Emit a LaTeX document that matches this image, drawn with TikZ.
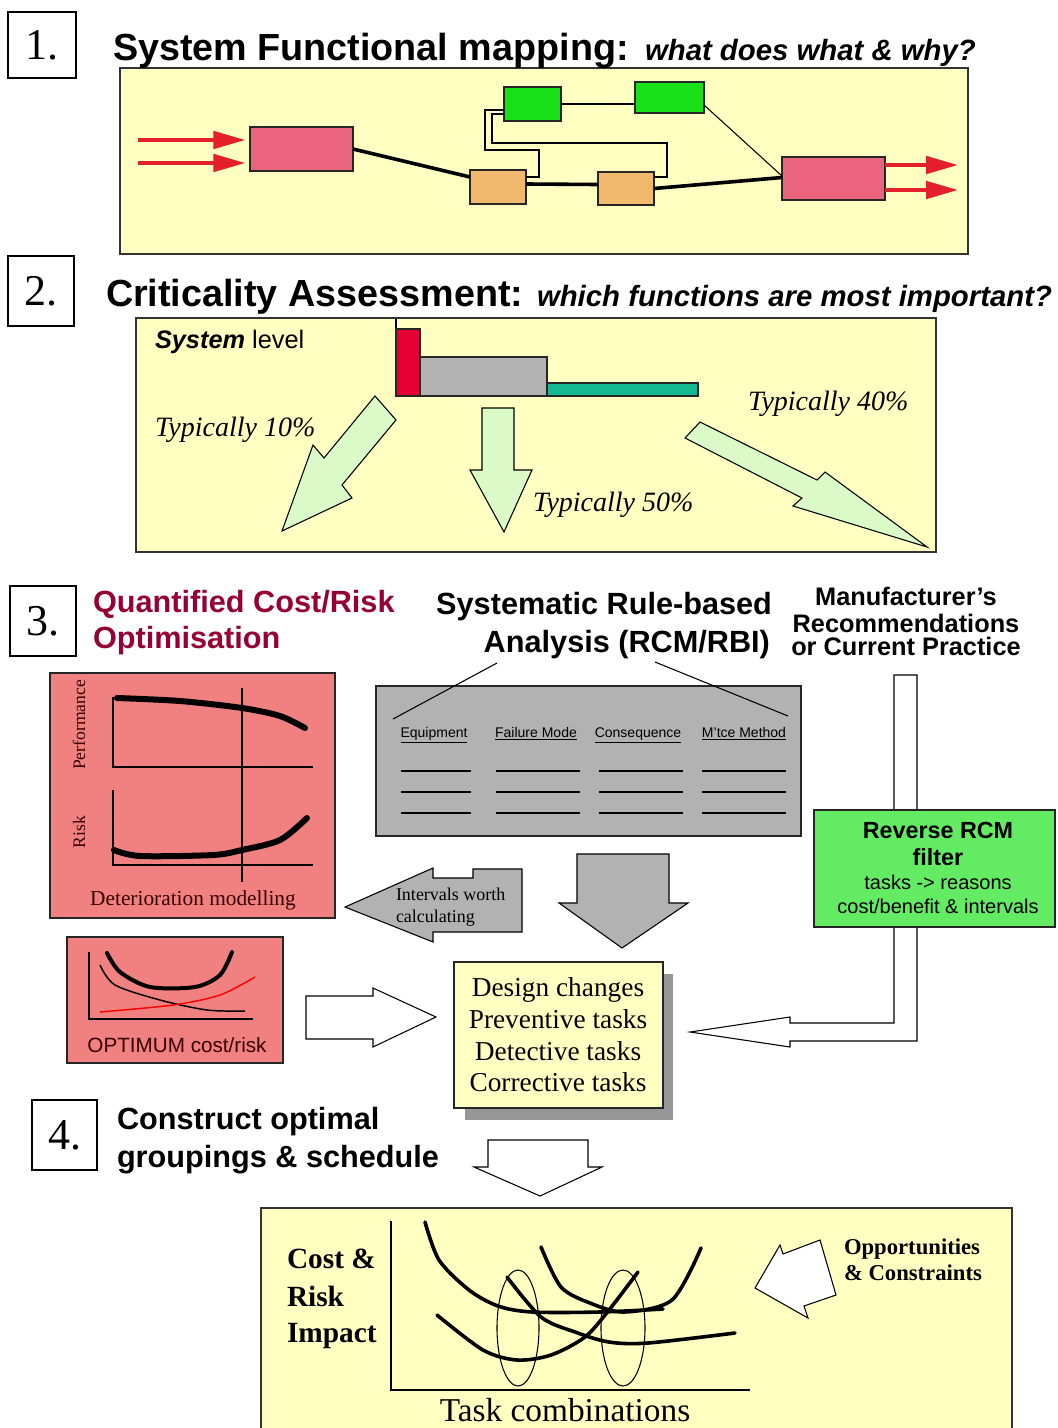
\documentclass[tikz,border=0pt]{standalone}
\usepackage{fontspec}
\setmainfont{Liberation Serif}
\setsansfont{Liberation Sans}
\usetikzlibrary{fit,calc,arrows.meta}
\newcommand\fz[2]{\fontsize{#1}{#2}\selectfont}
\definecolor{ylw}{RGB}{255,255,194}
\definecolor{pinkA}{RGB}{234,100,125}
\definecolor{orng}{RGB}{240,185,110}
\definecolor{grn}{RGB}{25,225,25}
\definecolor{redA}{RGB}{228,32,45}
\definecolor{barred}{RGB}{228,0,50}
\definecolor{bargrey}{RGB}{178,178,178}
\definecolor{barteal}{RGB}{20,185,145}
\definecolor{lgreen}{RGB}{218,250,200}
\definecolor{coral}{RGB}{241,128,128}
\definecolor{rcmgreen}{RGB}{100,235,100}
\definecolor{tgrey}{RGB}{178,178,178}
\definecolor{maroonA}{RGB}{150,0,50}
\definecolor{shadowc}{RGB}{150,150,150}
\definecolor{dkred}{RGB}{55,0,0}
\begin{document}
\begin{tikzpicture}[x=0.75pt,y=-0.75pt,
 every node/.style={inner sep=0pt,outer sep=0pt},
 numbox/.style={draw,line width=0.9pt,fill=white},
 numtxt/.style={font=\fz{33}{38}},
 ybox/.style={draw=black!80,line width=1.4pt,fill=ylw},
 filledbox/.style={draw=black!85,line width=1.2pt,fill=#1},
 thickconn/.style={line width=2.7pt},
 thinconn/.style={line width=0.8pt},
 redarr/.style={draw=redA,line width=3pt,-{Triangle[length=24pt,width=13pt]}},
 blockarr/.style={draw,line width=0.8pt,fill=#1,line join=miter},
 ttl/.style={font=\sffamily\bfseries\fz{28.3}{34},anchor=base west},
 ttli/.style={font=\sffamily\bfseries\itshape\fz{22}{26},anchor=base west},
 typ/.style={font=\itshape\fz{21}{25},anchor=base west},
 axln/.style={line width=1.1pt},
 curveT/.style={line width=4.5pt,line cap=round,line join=round},
 hdr/.style={font=\sffamily\bfseries\fz{23}{27}},
 mfr/.style={font=\sffamily\bfseries\fz{19}{22},anchor=base},
 colhdr/.style={font=\sffamily\fz{10.5}{12},anchor=base},
 rowln/.style={line width=1.1pt},
 chartc/.style={line width=2.7pt,line cap=round,line join=round},
 ell/.style={line width=0.8pt}
]
\fill[white] (0,0) rectangle (1057,1428);
\useasboundingbox (0,0) rectangle (1057,1428);

%% ---------------- Section 1
\node[numbox,fit={(8,12)(76,78)}] (n1) {};
\node[numtxt] (n1t) at (n1.center) {1.};
\node[ybox,fit={(120,68)(968,254)}] (y1) {};
\node[filledbox=pinkA,fit={(250,127)(353,171)}] (pk1) {};
\node[filledbox=pinkA,fit={(782,157)(885,200)}] (pk2) {};
\node[filledbox=orng,fit={(470,170)(526,204)}] (orA) {};
\node[filledbox=orng,fit={(598,172)(654,205)}] (orB) {};
\node[filledbox=grn,fit={(504,87)(561,121)}] (gr1) {};
\node[filledbox=grn,fit={(635,82)(704,113)}] (gr2) {};
\draw[thickconn] (pk1.east) -- ($(orA.north west)+(0,7)$);
\draw[thickconn] ($(orA.east)+(0,-3)$) -- ($(orB.west)+(0,-4)$);
\draw[thickconn] (orB.east) -- ($(pk2.west)+(0,-1)$);
\draw[thinconn] (gr1.east) -- (gr1.east -| gr2.west);
\draw[thinconn] ($(gr2.east)+(0,7.5)$) -- ($(pk2.north west)+(0,19)$);
\draw[thinconn] ($(gr1.west)+(0,6)$) -- (485,110) -- (485,150) -- (539,150) -- (539,177) -- ($(orA.north east)+(0,7)$);
\draw[thinconn] ($(gr1.west)+(0,10)$) -- (492,114) -- (492,143) -- (667,143) -- (667,177) -- ($(orB.north east)+(0,5)$);
\coordinate (inA) at (138,140);
\coordinate (inB) at (138,163);
\coordinate (outA) at (958,165);
\coordinate (outB) at (958,190);
\draw[redarr,shorten >=3.5pt] (inA) -- (pk1.west |- inA);
\draw[redarr,shorten >=3.5pt] (inB) -- (pk1.west |- inB);
\draw[redarr] (pk2.east |- outA) -- (outA);
\draw[redarr] (pk2.east |- outB) -- (outB);
\node[ttl] (t1) at (113,60) {System Functional mapping:};
\node[ttli] (t1b) at (645,60) {what does what \& why?};

%% ---------------- Section 2
\node[numbox,fit={(8,256)(74,326)}] (n2) {};
\node[numtxt] (n2t) at (n2.center) {2.};
\node[ttl] (t2) at (106,306) {Criticality Assessment:};
\node[ttli] (t2b) at (537,306) {which functions are most important?};
\node[ybox,fit={(136,318)(936,552)}] (y2) {};
\node[font=\sffamily\fz{19}{22},anchor=base west] (syslev) at (155,348) {\bfseries\itshape System\/ \mdseries\upshape level};
\draw[line width=0.9pt] (396,319) -- (396,396);
\node[filledbox=barred,line width=0.9pt,fit={(396,329)(420,396)}] (bR) {};
\node[filledbox=bargrey,line width=0.9pt,fit={(420,357)(547,396)}] (bG) {};
\node[filledbox=barteal,line width=0.9pt,fit={(547,383)(698,396)}] (bT) {};
\draw[blockarr=lgreen] (375,396) -- (396,420) -- (342,485) -- (352,498) -- (282,531) -- (313,445) -- (324,458) -- cycle;
\draw[blockarr=lgreen] (482,408) -- (514,408) -- (514,470) -- (532,470) -- (504,532) -- (470,470) -- (482,470) -- cycle;
\draw[blockarr=lgreen] (700,422) -- (817,480) -- (825,472) -- (927,547) -- (793,506) -- (802,498) -- (685,438) -- cycle;
\node[typ] (ty10) at (155,436) {Typically 10\%};
\node[typ] (ty50) at (533,511) {Typically 50\%};
\node[typ] (ty40) at (748,410) {Typically 40\%};

%% ---------------- Section 3
\node[numbox,fit={(10,586)(76,656)}] (n3) {};
\node[numtxt] (n3t) at (n3.center) {3.};
\node[hdr,text=maroonA,anchor=base west] (q1) at (93,612) {Quantified Cost/Risk};
\node[hdr,text=maroonA,anchor=base west] (q2) at (93,648) {Optimisation};
\node[hdr,anchor=base east] (s1) at (772,614) {Systematic Rule-based};
\node[hdr,anchor=base east] (s2) at (770,652) {Analysis (RCM/RBI)};
\node[mfr] (m1) at (906,605) {Manufacturer's};
\node[mfr] (m2) at (906,632) {Recommendations};
\node[mfr] (m3) at (906,655) {or Current Practice};

% grey table
\node[filledbox=tgrey,fit={(376,686)(801,836)}] (tbl) {};
\coordinate (lnL) at (497,663);
\coordinate (lnR) at (655,662);
\draw[line width=0.8pt] (lnL) -- (393,719);
\draw[line width=0.8pt] (lnR) -- (788,716);
\node[colhdr] (h1) at (434,737) {\underline{Equipment}};
\node[colhdr] (h2) at (536,737) {\underline{Failure Mode}};
\node[colhdr] (h3) at (638,737) {\underline{Consequence}};
\node[colhdr] (h4) at (744,737) {\underline{M'tce Method}};
\foreach \yy in {771,792,813}{
  \draw[rowln] (401,\yy) -- (471,\yy);
  \draw[rowln] (496,\yy) -- (580,\yy);
  \draw[rowln] (599,\yy) -- (683,\yy);
  \draw[rowln] (702,\yy) -- (786,\yy);
}

% deterioration box
\node[filledbox=coral,fit={(50,673)(335,918)}] (dm) {};
\draw[axln] (113,697) -- (113,767) -- (313,767);
\draw[axln] (113,790) -- (113,865) -- (313,865);
\draw[axln] (242,688) -- (242,882);
\draw[curveT] plot[smooth] coordinates {(117,698) (180,701) (242,708) (280,716) (305,728)};
\draw[curveT] plot[smooth] coordinates {(114,850) (140,856) (213,855) (242,850) (280,840) (307,818)};
\node[rotate=90,font=\fz{13.2}{15},text=dkred] (perf) at (79,725) {Performance};
\node[rotate=90,font=\fz{13.2}{15},text=dkred] (risk) at (79,832) {Risk};
\node[font=\fz{16}{19},text=dkred] (detm) at (193,900) {Deterioration modelling};

% intervals arrow
\draw[blockarr=tgrey] (345,907) -- (433,868) -- (433,878) -- (473,878) -- (473,869) -- (522,869) -- (522,932) -- (433,932) -- (433,942) -- cycle;
\node[font=\fz{13.5}{16},anchor=base west] (iw1) at (396,900) {Intervals worth};
\node[font=\fz{13.5}{16},anchor=base west] (iw2) at (396,922) {calculating};

% big grey down arrow
\draw[blockarr=tgrey] (577,854) -- (669,854) -- (669,903) -- (688,903) -- (622,948) -- (559,903) -- (577,903) -- cycle;

% optimum box
\node[filledbox=coral,fit={(67,937)(283,1063)}] (opt) {};
\draw[axln] (89,952) -- (89,1019) -- (253,1019);
\draw[line width=3pt,line cap=round] plot[smooth] coordinates {(107,953) (120,972) (150,987) (195,987) (220,975) (232,952)};
\draw[line width=1.1pt] plot[smooth] coordinates {(100,965) (115,985) (160,1000) (207,1010) (245,1011)};
\draw[line width=1.1pt,red] plot[smooth] coordinates {(100,1012) (173,1005) (220,995) (255,977)};
\node[font=\sffamily\fz{15.5}{18},text=dkred] (optt) at (177,1045) {OPTIMUM cost/risk};

% white right arrow into tasks
\draw[blockarr=white] (306,996) -- (373,996) -- (373,988) -- (436,1017) -- (373,1047) -- (373,1039) -- (306,1039) -- cycle;

% tasks box
\fill[shadowc] (465,974) rectangle (673,1120);
\node[filledbox=ylw,line width=1.1pt,fit={(454,962)(663,1108)}] (tasks) {};
\node[font=\fz{20.5}{23.8},align=center] (taskt) at (558,1035) {Design changes\\Preventive tasks\\Detective tasks\\Corrective tasks};

% manufacturer L connector
\draw[blockarr=white] (894,675) -- (917,675) -- (917,1041) -- (790,1041) -- (790,1047) -- (690,1032) -- (790,1017) -- (790,1023) -- (894,1023) -- cycle;

% reverse RCM
\node[filledbox=rcmgreen,fit={(814,810)(1055,927)}] (rcm) {};
\node[font=\sffamily\bfseries\fz{17.5}{20},anchor=base] (r1) at (938,838) {Reverse RCM};
\node[font=\sffamily\bfseries\fz{17.5}{20},anchor=base] (r2) at (938,865) {filter};
\node[font=\sffamily\fz{15}{18},anchor=base] (r3) at (938,889) {tasks -> reasons};
\node[font=\sffamily\fz{15}{18},anchor=base] (r4) at (938,913) {cost/benefit \& intervals};

%% ---------------- Section 4
\node[numbox,fit={(32,1100)(97,1170)}] (n4) {};
\node[numtxt] (n4t) at (n4.center) {4.};
\node[hdr,anchor=base west] (c1) at (117,1129) {Construct optimal};
\node[hdr,anchor=base west] (c2) at (117,1167) {groupings \& schedule};
\draw[blockarr=white] (488,1140) -- (588,1140) -- (588,1167) -- (602,1167) -- (540,1196) -- (474,1167) -- (488,1167) -- cycle;

\node[ybox,fit={(261,1208)(1012,1440)}] (y4) {};
\draw[axln] (391,1221) -- (391,1390) -- (750,1390);
\draw[ell] (518,1328) ellipse [x radius=21,y radius=58];
\draw[ell] (623,1328) ellipse [x radius=22,y radius=58];
\draw[chartc] plot[smooth] coordinates {(425,1222) (439,1260) (469,1290) (498,1306) (532,1312) (600,1312) (663,1309)};
\draw[chartc] plot[smooth] coordinates {(541,1247) (561,1287) (590,1303) (624,1312) (672,1300) (701,1248)};
\draw[chartc] plot[smooth] coordinates {(507,1277) (541,1317) (575,1332) (609,1342) (648,1343) (735,1333)};
\draw[chartc] plot[smooth] coordinates {(437,1315) (483,1350) (517,1360) (551,1355) (585,1337) (609,1310) (638,1272)};
\node[font=\bfseries\fz{22}{26},anchor=base west] (cr1) at (287,1268) {Cost \&};
\node[font=\bfseries\fz{22}{26},anchor=base west] (cr2) at (287,1306) {Risk};
\node[font=\bfseries\fz{22}{26},anchor=base west] (cr3) at (287,1342) {Impact};
\node[font=\fz{25}{29},anchor=base] (tc) at (565,1421) {Task combinations};
\draw[blockarr=white] (755,1288) -- (780,1245) -- (783,1254) -- (820,1240) -- (836,1295) -- (804,1306) -- (808,1318) -- cycle;
\node[font=\bfseries\fz{17}{19},anchor=base west] (op1) at (844,1254) {Opportunities};
\node[font=\bfseries\fz{17}{19},anchor=base west] (op2) at (844,1280) {\& Constraints};
\end{tikzpicture}
\end{document}
